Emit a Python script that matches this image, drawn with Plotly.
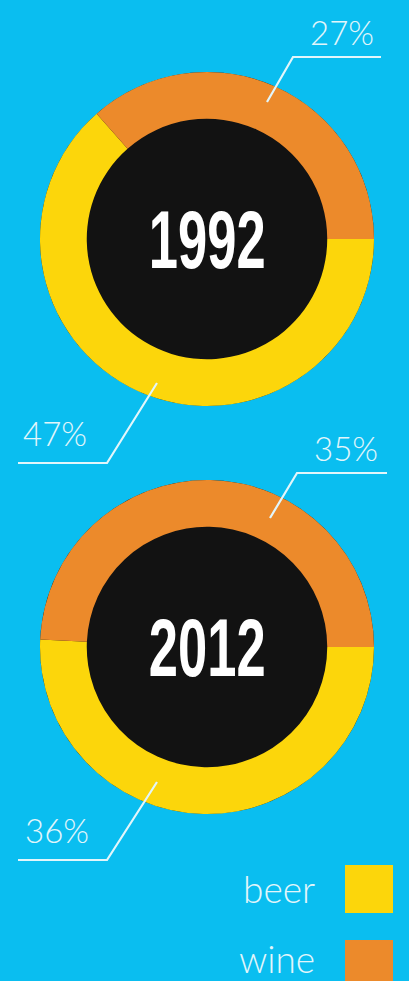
import plotly.graph_objects as go

# ---- data ----
years = ["1992", "2012"]
drinks = ["beer", "wine"]
beer_share = [47, 36]          # % of alcohol consumption
wine_share = [27, 35]
legend_order = ["beer", "wine"]

# ---- style ----
W, H = 409, 981
BG = "#0ABEF0"
INK = "#E2F6FB"
HOLE_COLOR = "#121212"
COLORS = {"beer": "#FCD60B", "wine": "#EC8A2B"}
LABEL_FONT = dict(family="Lato, 'Open Sans', sans-serif", size=33, color=INK, weight=300)
YEAR_FONT = dict(family="'Liberation Sans', Arial, sans-serif", size=82, color="white", weight=700)
YEAR_SQUEEZE = 0.64            # horizontal condensing of the year numerals

CX = 207
CENTERS_Y = [239, 647]
R = 167
HOLE = 0.72

# callout geometry per donut (pixels): ring point, elbow, end of rule, label centre
CALLOUTS = [
    dict(top=[(267, 102), (293, 57), (381, 57)], top_lbl=(342, 32),
         bot=[(157, 383), (107, 463), (18, 463)], bot_lbl=(55, 433)),
    dict(top=[(270, 518), (297, 473), (387, 473)], top_lbl=(346, 448),
         bot=[(157, 782), (107, 860), (18, 860)], bot_lbl=(57, 830)),
]


def px(x, y):
    return x / W, 1 - y / H


fig = go.Figure()
shapes, annotations = [], []

for i, year in enumerate(years):
    cy = CENTERS_Y[i]
    dom = dict(x=[(CX - R) / W, (CX + R) / W], y=[1 - (cy + R) / H, 1 - (cy - R) / H])
    # dark disc behind the ring
    fig.add_trace(go.Pie(values=[1], labels=[year], marker=dict(colors=[HOLE_COLOR]),
                         domain=dom, textinfo="none", showlegend=False,
                         hoverinfo="skip", sort=False))
    # beer / wine ring: beer starts at 3 o'clock, wine closes back onto it
    fig.add_trace(go.Pie(values=[beer_share[i], wine_share[i]], labels=drinks,
                         marker=dict(colors=[COLORS[d] for d in drinks]),
                         hole=HOLE, domain=dom, sort=False,
                         direction="counterclockwise", rotation=90,
                         textinfo="none", showlegend=False, name=year))
    x0, y0 = px(CX, cy)
    annotations.append(dict(x=x0, y=y0, xref="paper", yref="paper", text=year,
                            showarrow=False, font=YEAR_FONT, xanchor="center", yanchor="middle"))

    c = CALLOUTS[i]
    for key, lbl_key, val in (("top", "top_lbl", wine_share[i]), ("bot", "bot_lbl", beer_share[i])):
        pts = [px(*p) for p in c[key]]
        path = "M " + " L ".join(f"{x},{y}" for x, y in pts)
        shapes.append(dict(type="path", path=path, xref="paper", yref="paper",
                           line=dict(color=INK, width=2.2), layer="above"))
        lx, ly = px(*c[lbl_key])
        annotations.append(dict(x=lx, y=ly, xref="paper", yref="paper", text=f"{val}%",
                                showarrow=False, font=LABEL_FONT,
                                xanchor="center", yanchor="middle"))

# legend: label on the left, swatch on the right
LEGEND_ROWS = {"beer": (889, 888), "wine": (964, 958)}   # (swatch centre, text centre)
for name in legend_order:
    sq_y, txt_y = LEGEND_ROWS[name]
    sx0, sy0 = px(345, sq_y - 24)
    sx1, sy1 = px(393, sq_y + 24)
    shapes.append(dict(type="rect", xref="paper", yref="paper", x0=sx0, x1=sx1, y0=sy1, y1=sy0,
                       fillcolor=COLORS[name], line=dict(width=0), layer="above"))
    tx, ty = px(317, txt_y)
    annotations.append(dict(x=tx, y=ty, xref="paper", yref="paper", text=name,
                            showarrow=False, font=dict(LABEL_FONT, size=37),
                            xanchor="right", yanchor="middle"))

fig.update_layout(
    width=W, height=H,
    margin=dict(l=0, r=0, t=0, b=0),
    paper_bgcolor=BG, plot_bgcolor=BG,
    shapes=shapes, annotations=annotations,
    showlegend=False,
)

# condense the year numerals in place (about their own centre)
post = """
var gd = document.getElementById('{plot_id}');
var yrs = %s;
gd.querySelectorAll('text.annotation-text').forEach(function (t) {
  if (yrs.indexOf(t.textContent.trim()) >= 0) {
    t.style.transformBox = 'fill-box';
    t.style.transformOrigin = 'center';
    t.style.transform = 'scaleX(%s)';
  }
});
""" % (str(years).replace("'", '"'), YEAR_SQUEEZE)

fig.write_html("out.html", config=dict(displayModeBar=False), post_script=post)
